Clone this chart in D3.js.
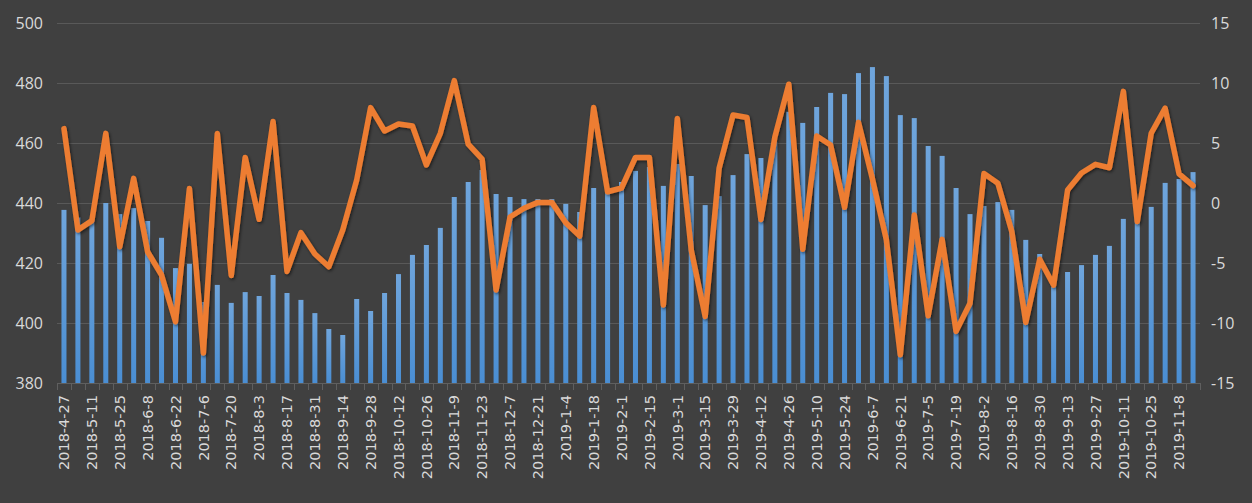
<!DOCTYPE html>
<html><head><meta charset="utf-8">
<script src="https://cdn.jsdelivr.net/npm/d3@7"></script>
<style>html,body{margin:0;padding:0;background:#404040;}svg{display:block}</style>
</head><body><svg id="c" width="1252" height="503"></svg>
<script>
const categories = [
"2018-4-27","2018-5-4","2018-5-11","2018-5-18","2018-5-25","2018-6-1","2018-6-8","2018-6-15","2018-6-22","2018-6-29",
"2018-7-6","2018-7-13","2018-7-20","2018-7-27","2018-8-3","2018-8-10","2018-8-17","2018-8-24","2018-8-31","2018-9-7",
"2018-9-14","2018-9-21","2018-9-28","2018-10-5","2018-10-12","2018-10-19","2018-10-26","2018-11-2","2018-11-9","2018-11-16",
"2018-11-23","2018-11-30","2018-12-7","2018-12-14","2018-12-21","2018-12-28","2019-1-4","2019-1-11","2019-1-18","2019-1-25",
"2019-2-1","2019-2-8","2019-2-15","2019-2-22","2019-3-1","2019-3-8","2019-3-15","2019-3-22","2019-3-29","2019-4-5",
"2019-4-12","2019-4-19","2019-4-26","2019-5-3","2019-5-10","2019-5-17","2019-5-24","2019-5-31","2019-6-7","2019-6-14",
"2019-6-21","2019-6-28","2019-7-5","2019-7-12","2019-7-19","2019-7-26","2019-8-2","2019-8-9","2019-8-16","2019-8-23",
"2019-8-30","2019-9-6","2019-9-13","2019-9-20","2019-9-27","2019-10-4","2019-10-11","2019-10-18","2019-10-25","2019-11-1",
"2019-11-8","2019-11-15"];

const barValues = [
437.7,435.2,434.7,440,436.3,438.3,434,428.4,418.3,419.7,
407,412.7,406.7,410.3,409,416,410,407.7,403.3,398,
396,408,404,410,416.3,422.7,426,431.7,442,447,
451,443,442,441.3,441.3,441.3,439.7,437,445,445,
447,450.7,452,445.7,453,449,439.3,442.3,449.3,456.3,
455,460.5,470.4,466.7,472,476.7,476.3,483.3,485.3,482.3,
469.3,468.3,459,455.7,445,436.3,439,440.3,437.7,427.7,
423,412,417,419.3,422.7,425.7,434.7,437,438.7,446.7,
448,450.3];

const lineValues = [
6.2,-2.25,-1.47,5.8,-3.64,2.05,-4.06,-6.0,-9.9,1.2,
-12.5,5.8,-6.05,3.8,-1.36,6.8,-5.7,-2.47,-4.25,-5.31,
-2.25,1.92,7.95,6.0,6.58,6.42,3.17,5.81,10.2,4.9,
3.65,-7.25,-1.17,-0.44,0.05,0.05,-1.65,-2.75,7.95,0.94,
1.25,3.8,3.8,-8.5,7.05,-3.92,-9.45,2.89,7.33,7.12,
-1.38,5.5,9.9,-3.85,5.58,4.83,-0.36,6.72,2.0,-3.08,
-12.65,-1.0,-9.4,-3.03,-10.7,-8.36,2.45,1.64,-2.39,-9.95,
-4.69,-6.85,1.08,2.5,3.22,2.94,9.3,-1.55,5.81,7.9,
2.42,1.44];

const leftTicks = [380,400,420,440,460,480,500];
const rightTicks = [-15,-10,-5,0,5,10,15];

const W = 1252, H = 503;
const plot = {x0: 57, x1: 1200, y0: 23, y1: 383};
const svg = d3.select('#c');
svg.append('rect').attr('width', W).attr('height', H).attr('fill', '#404040');

const defs = svg.append('defs');
const grad = defs.append('linearGradient').attr('id','barGrad').attr('x1',0).attr('y1',0).attr('x2',0).attr('y2',1);
grad.append('stop').attr('offset','0%').attr('stop-color','#6fa5dc');
grad.append('stop').attr('offset','100%').attr('stop-color','#4a8ed3');
const sh = defs.append('filter').attr('id','shadow').attr('x','-10%').attr('y','-10%').attr('width','120%').attr('height','120%');
sh.append('feDropShadow').attr('dx',1.2).attr('dy',1.5).attr('stdDeviation',1.6).attr('flood-color','#000').attr('flood-opacity',0.55);

const x = d3.scaleBand().domain(categories).range([plot.x0, plot.x1]).paddingInner(0.64).paddingOuter(0.32);
const yL = d3.scaleLinear().domain([380, 500]).range([plot.y1, plot.y0]);
const yR = d3.scaleLinear().domain([-15, 15]).range([plot.y1, plot.y0]);
const step = x.step();
const cx = d => x(d) + x.bandwidth() / 2;

// gridlines
svg.append('g').selectAll('line').data(leftTicks.filter(t => t !== 380)).join('line')
  .attr('x1', plot.x0).attr('x2', plot.x1)
  .attr('y1', d => Math.round(yL(d)) + 0.5).attr('y2', d => Math.round(yL(d)) + 0.5)
  .attr('stroke', '#595959').attr('stroke-width', 1);

// left axis labels
svg.append('g').selectAll('text').data(leftTicks).join('text')
  .attr('x', 43).attr('y', d => yL(d)).attr('dy', '0.36em')
  .attr('text-anchor', 'end').attr('fill', '#d9d9d9')
  .attr('font-family', '"Open Sans", sans-serif').attr('font-size', 16)
  .text(d => d);

// right axis labels
svg.append('g').selectAll('text').data(rightTicks).join('text')
  .attr('x', 1211).attr('y', d => yR(d)).attr('dy', '0.36em')
  .attr('text-anchor', 'start').attr('fill', '#d9d9d9')
  .attr('font-family', '"Open Sans", sans-serif').attr('font-size', 16)
  .text(d => d);

// bars
svg.append('g').selectAll('rect').data(categories).join('rect')
  .attr('x', d => x(d)).attr('width', x.bandwidth())
  .attr('y', (d, i) => yL(barValues[i]))
  .attr('height', (d, i) => yL(380) - yL(barValues[i]))
  .attr('fill', 'url(#barGrad)');

// x axis line and ticks
const ax = svg.append('g');
ax.append('line').attr('x1', plot.x0).attr('x2', plot.x1).attr('y1', plot.y1 + 0.5).attr('y2', plot.y1 + 0.5)
  .attr('stroke', '#5f5f5f').attr('stroke-width', 1);
const bounds = categories.map(d => x(d) - (step - x.bandwidth()) / 2).concat([plot.x1]);
ax.selectAll('line.tk').data(bounds).join('line').attr('class', 'tk')
  .attr('x1', d => Math.round(d) + 0.5).attr('x2', d => Math.round(d) + 0.5)
  .attr('y1', plot.y1).attr('y2', plot.y1 + 7)
  .attr('stroke', '#5f5f5f').attr('stroke-width', 1);

// x labels every other category
ax.selectAll('text').data(categories.filter((d, i) => i % 2 === 0)).join('text')
  .attr('transform', d => `translate(${cx(d)},395) rotate(-90)`)
  .attr('dy', '0.36em').attr('text-anchor', 'end').attr('fill', '#d9d9d9')
  .attr('font-family', '"DejaVu Sans", sans-serif').attr('font-size', 14.5)
  .text(d => d);

// line
const line = d3.line().x((d, i) => cx(categories[i])).y(d => yR(d));
svg.append('path').datum(lineValues).attr('d', line)
  .attr('fill', 'none').attr('stroke', '#ed7d31').attr('stroke-width', 5.5)
  .attr('stroke-linejoin', 'round').attr('stroke-linecap', 'round')
  .attr('filter', 'url(#shadow)');
</script></body></html>
